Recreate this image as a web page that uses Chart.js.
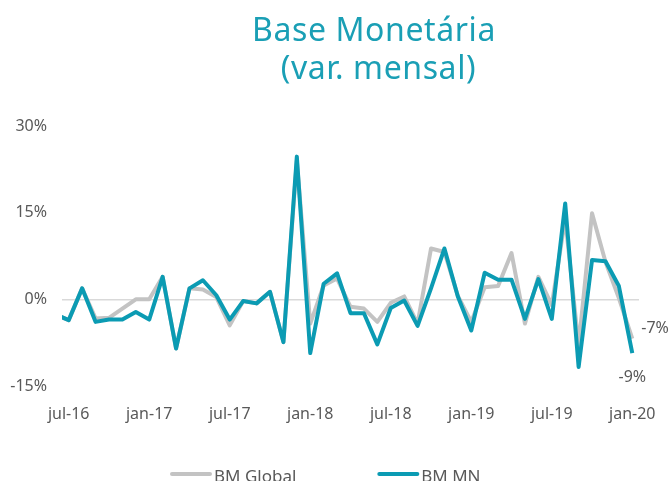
<!DOCTYPE html>
<html>
<head>
<meta charset="utf-8">
<script src="https://cdn.jsdelivr.net/npm/chart.js@4.4.1/dist/chart.umd.min.js"></script>
<style>
  html, body { margin: 0; padding: 0; background: #fff; }
  #wrap { position: relative; width: 671px; height: 481px; overflow: hidden; }
  #myChart { position: absolute; left: 0; top: 0; }
  #title {
    position: absolute; left: 124px; top: 10px; width: 500px;
    text-align: center; white-space: pre;
    font-family: 'Noto Sans', sans-serif; font-size: 32px; line-height: 38px;
    letter-spacing: 0.6px;
    color: #1a9fb5;
  }
</style>
</head>
<body>
<div id="wrap">
  <canvas id="myChart" width="671" height="481"></canvas>
  <div id="title">Base Monetária
 (var. mensal)</div>
</div>
<script>
// monthly variation, jun-16 .. jan-20 (jun-16 only shows as the clipped start)
const months = [
  'jun-16','jul-16','ago-16','set-16','out-16','nov-16','dez-16',
  'jan-17','fev-17','mar-17','abr-17','mai-17','jun-17','jul-17','ago-17','set-17','out-17','nov-17','dez-17',
  'jan-18','fev-18','mar-18','abr-18','mai-18','jun-18','jul-18','ago-18','set-18','out-18','nov-18','dez-18',
  'jan-19','fev-19','mar-19','abr-19','mai-19','jun-19','jul-19','ago-19','set-19','out-19','nov-19','dez-19',
  'jan-20'
];
const bmGlobal = [
  -2.6, -3.6, 1.9, -3.3, -3.2, -1.6, 0.0,
  0.0, 3.9, -8.5, 1.9, 1.7, 0.4, -4.5, -0.3, -0.7, 1.3, -7.4, 24.0,
  -4.2, 2.4, 3.6, -1.3, -1.6, -3.9, -0.6, 0.5, -4.2, 8.8, 8.2, 0.6,
  -3.9, 2.1, 2.3, 8.0, -4.2, 3.9, -1.0, 14.0, -8.0, 14.9, 6.5, 0.2,
  -6.8
];
const bmMN = [
  -2.6, -3.6, 1.9, -3.9, -3.5, -3.5, -2.2,
  -3.5, 3.9, -8.5, 1.9, 3.3, 0.7, -3.5, -0.3, -0.7, 1.3, -7.4, 24.7,
  -9.3, 2.7, 4.5, -2.4, -2.4, -7.8, -1.5, -0.2, -4.6, 1.9, 8.8, 0.5,
  -5.4, 4.6, 3.4, 3.4, -3.4, 3.5, -3.4, 16.6, -11.7, 6.8, 6.6, 2.3,
  -9.3
];
const tickLabels = ['jul-16','jan-17','jul-17','jan-18','jul-18','jan-19','jul-19','jan-20'];
const yTicks = [-15, 0, 15, 30];
const seriesNames = ['BM Global', 'BM MN'];

const teal = '#0b9bb3';
const gray = '#c3c3c3';
const textColor = '#595959';
const font = 'Noto Sans';

// x = months since jul-16
function toPoints(values) {
  return values.map(function (v, i) { return { x: i - 1, y: v }; });
}

const endLabels = {
  id: 'endLabels',
  afterDraw: function (chart) {
    const ctx = chart.ctx;
    ctx.save();
    ctx.font = '16px "' + font + '"';
    ctx.fillStyle = textColor;
    ctx.textBaseline = 'middle';

    // values at last point
    const g = chart.getDatasetMeta(0).data;
    const m = chart.getDatasetMeta(1).data;
    const gLast = g[g.length - 1];
    const mLast = m[m.length - 1];
    ctx.textAlign = 'left';
    ctx.fillText(Math.round(bmGlobal[bmGlobal.length - 1]) + '%', gLast.x + 9, gLast.y - 10);
    ctx.textAlign = 'center';
    ctx.fillText(Math.round(bmMN[bmMN.length - 1]) + '%', mLast.x, mLast.y + 24);

    // legend along the bottom, cut by the page edge like the original
    const colors = [gray, teal];
    let x = 172;
    ctx.font = '17px "' + font + '"';
    ctx.textAlign = 'left';
    ctx.textBaseline = 'alphabetic';
    for (let k = 0; k < seriesNames.length; k++) {
      ctx.strokeStyle = colors[k];
      ctx.lineWidth = 4;
      ctx.lineCap = 'round';
      ctx.beginPath();
      ctx.moveTo(x, 474);
      ctx.lineTo(x + 38, 474);
      ctx.stroke();
      ctx.fillText(seriesNames[k], x + 42, 482);
      x = x + 42 + ctx.measureText(seriesNames[k]).width + 83;
    }
    ctx.restore();
  }
};

function chartOnLoad() {
  const ctx = document.getElementById('myChart');

  new Chart(ctx, {
    type: 'line',
    data: {
      datasets: [{
        label: seriesNames[0],
        data: toPoints(bmGlobal),
        borderColor: gray,
        borderWidth: 4,
        order: 2
      }, {
        label: seriesNames[1],
        data: toPoints(bmMN),
        borderColor: teal,
        borderWidth: 4,
        order: 1
      }]
    },
    options: {
      responsive: false,
      animation: false,
      clip: 0,
      layout: { padding: { top: 126, right: 32, bottom: 0, left: 0 } },
      elements: {
        point: { radius: 0 },
        line: { tension: 0, borderJoinStyle: 'round', fill: false }
      },
      scales: {
        x: {
          type: 'linear',
          min: -0.5,
          max: 42.5,
          grid: { display: false },
          border: { display: false },
          afterBuildTicks: function (scale) {
            scale.ticks = tickLabels.map(function (t) { return { value: months.indexOf(t) - 1 }; });
          },
          afterFit: function (scale) { scale.height = 95; },
          ticks: {
            autoSkip: false,
            maxRotation: 0,
            padding: 11,
            color: textColor,
            font: { family: font, size: 16 },
            callback: function (value, index) { return tickLabels[index]; }
          }
        },
        y: {
          min: -15,
          max: 30,
          afterBuildTicks: function (scale) {
            scale.ticks = yTicks.map(function (v) { return { value: v }; });
          },
          afterFit: function (scale) { scale.width = 62; },
          border: { display: false },
          grid: {
            drawTicks: false,
            lineWidth: 1.5,
            color: function (c) { return c.tick && c.tick.value === 0 ? '#d9d9d9' : 'rgba(0,0,0,0)'; }
          },
          ticks: {
            padding: 15,
            color: textColor,
            font: { family: font, size: 16 },
            callback: function (value) { return value + '%'; }
          }
        }
      },
      plugins: {
        legend: { display: false },
        tooltip: { enabled: false }
      }
    },
    plugins: [endLabels]
  });
}

window.onload = chartOnLoad();
</script>
</body>
</html>
